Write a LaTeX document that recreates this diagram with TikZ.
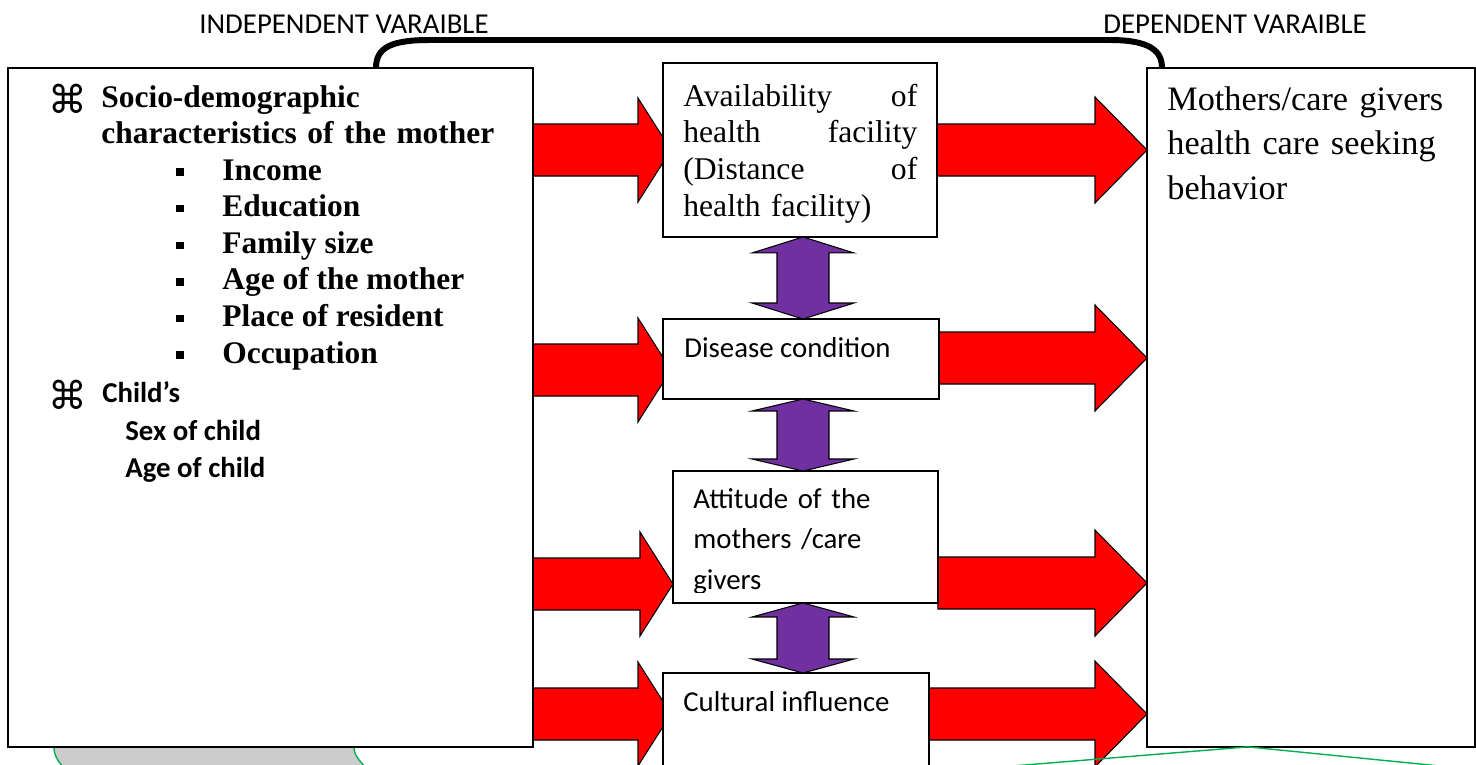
\documentclass[tikz,border=0pt]{standalone}
\usepackage{fontspec}
\setmainfont{Liberation Serif}
\newfontfamily\calibri{Carlito}
\newfontfamily\symbfont{DejaVu Sans}
\usetikzlibrary{calc, backgrounds}

\definecolor{officegreen}{HTML}{00B050}
\definecolor{officepurple}{HTML}{7030A0}

% block arrow pointing right: tail, tip, head length, head half width
\newcommand{\blockarrow}[4]{%
	\draw[redarrow] ($(#1)+(0,-26)$) -- ($(#2)+(-#3,-26)$) -- ($(#2)+(-#3,-#4)$) -- (#2)
		-- ($(#2)+(-#3,#4)$) -- ($(#2)+(-#3,26)$) -- ($(#1)+(0,26)$) -- cycle;}
% vertical double block arrow: top tip, bottom tip, head length
\newcommand{\dblarrow}[3]{%
	\draw[purplearrow] (#1) -- ($(#1)+(51,#3)$) -- ($(#1)+(26,#3)$) -- ($(#2)+(26,-#3)$)
		-- ($(#2)+(51,-#3)$) -- (#2) -- ($(#2)+(-51,-#3)$) -- ($(#2)+(-26,-#3)$)
		-- ($(#1)+(-26,#3)$) -- ($(#1)+(-51,#3)$) -- cycle;}

\begin{document}
\begin{tikzpicture}[x=0.02cm, y=-0.02cm]
	% Define styles
	\tikzset{
		box/.style={rectangle, draw, fill=white, line width=0.9pt, inner sep=0pt, outer sep=0pt, anchor=north west},
		txt/.style={inner sep=0pt, anchor=base west},
		serif/.style={txt, font=\fontsize{18}{21}\selectfont},
		boldserif/.style={txt, font=\bfseries\fontsize{17.9}{20.7}\selectfont},
		sans/.style={txt, font=\calibri\fontsize{16.4}{23.2}\selectfont},
		sansbold/.style={txt, font=\calibri\bfseries\fontsize{16.4}{21}\selectfont},
		leafmark/.style={inner sep=0pt, font=\symbfont\fontsize{22}{22}\selectfont},
		sqbullet/.style={fill=black, inner sep=0pt, minimum size=0.15cm},
		redarrow/.style={draw=black, line width=0.6pt, fill=red},
		purplearrow/.style={draw=black, line width=0.6pt, fill=officepurple},
		link/.style={draw, line width=3.4pt},
		greenline/.style={draw=officegreen, line width=0.8pt}
	}
	\useasboundingbox (0,0) rectangle (1476,764);
	\clip (0,0) rectangle (1476,764);
	
	% Boxes
	\node[box, minimum width=10.5cm, minimum height=13.58cm] (socio) at (8,68) {};
	\node[box, minimum width=5.48cm, minimum height=3.48cm] (avail) at (663,63) {};
	\node[box, minimum width=5.52cm, minimum height=1.6cm] (disease) at (663,319) {};
	\node[box, minimum width=5.3cm, minimum height=2.64cm] (attitude) at (673,471) {};
	\node[box, minimum width=5.32cm, minimum height=3cm] (cultural) at (663,673) {};
	\node[box, minimum width=6.56cm, minimum height=13.58cm] (seeking) at (1147,68) {};
	
	% Headings
	\node[txt, font=\calibri\fontsize{16.4}{19.7}\selectfont] (indep) at (199,33) {INDEPENDENT VARAIBLE};
	\node[txt, font=\calibri\fontsize{16.4}{19.7}\selectfont] (dep) at (1103,33) {DEPENDENT VARAIBLE};
	
	% Independent variables
	\node[leafmark] (mark1) at (68,99) {⌘};
	\node[boldserif, text width=8.6cm, align=left] (sociohead) at (101,107) {Socio-demographic\\characteristics of the mother};
	\foreach \entry [count=\i] in {Income, Education, Family size, Age of the mother, Place of resident, Occupation} {
		\node[sqbullet] (sq\i) at (180, 135.5+36.6*\i) {};
		\node[boldserif] (entry\i) at (222, 143.5+36.6*\i) {\entry};
	}
	\node[leafmark] (mark2) at (68,395) {⌘};
	\node[sansbold] (child) at (102,402) {Child’s};
	\node[sansbold] (sex) at (125,440) {Sex of child};
	\node[sansbold] (agechild) at (125,477) {Age of child};
	
	% Middle factors
	\node[serif, text width=4.68cm, align=left] (availtext) at (683,106) {Availability \hfill of\\ health \hfill facility\\ (Distance \hfill of\\ health facility)};
	\node[sans] (diseasetext) at (684,357) {Disease condition};
	\begin{scope}
		\clip (attitude.north west) rectangle (attitude.east |- 0,592);
		\node[sans, text width=5cm, align=left] (attitudetext) at (693,508) {Attitude of the\\ mothers /care\\ givers};
	\end{scope}
	\node[sans] (culturaltext) at (683,711) {Cultural influence};
	
	% Dependent variable
	\node[serif, font=\fontsize{19.5}{25.5}\selectfont, text width=6cm, align=left] (seekingtext) at (1167,110) {Mothers/care givers\\ health care seeking\\ behavior};
	
	% Arrows
	\begin{scope}[on background layer]
		\draw[greenline, fill=gray!40] (54,747) .. controls (54,755) and (57,760) .. (64,768) -- (366,768) .. controls (359,760) and (354,755) .. (354,747) -- cycle;
		\foreach \bx/\ry/\off [count=\i] in {avail/150/8, disease/370/8, attitude/584/0, cultural/714/8} {
			\coordinate (lt\i) at (socio.east |- 0,\ry);
			\coordinate (lh\i) at ($(\bx.west |- 0,\ry)+(\off,0)$);
			\blockarrow{lt\i}{lh\i}{33}{52}
		}
		\foreach \bx/\ry [count=\i] in {avail/150, disease/358, attitude/583, cultural/714} {
			\coordinate (rt\i) at (\bx.east |- 0,\ry);
			\coordinate (rh\i) at (seeking.west |- 0,\ry);
			\blockarrow{rt\i}{rh\i}{52}{53}
		}
	\end{scope}
	\foreach \up/\down/\hl [count=\i] in {avail/disease/16, disease/attitude/12, attitude/cultural/14} {
		\coordinate (pu\i) at (\up.south -| 803,0);
		\coordinate (pd\i) at (\down.north -| 803,0);
		\dblarrow{pu\i}{pd\i}{\hl}
	}
	
	\draw[link] (socio.north -| 376,0) .. controls (376,47) and (392,40) .. (430,40) -- (1110,40) .. controls (1150,40) and (1162,51) .. (seeking.north -| 1162,0);
	\draw[greenline] (1000,767) -- (seeking.south -| 1248,0) -- (1450,767);
\end{tikzpicture}
\end{document}
